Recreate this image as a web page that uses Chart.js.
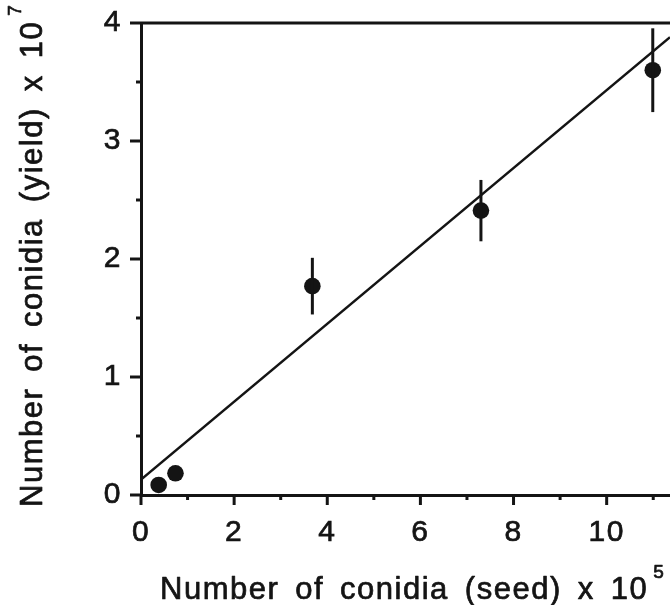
<!DOCTYPE html>
<html><head><meta charset="utf-8">
<script src="https://cdn.jsdelivr.net/npm/chart.js@4.4.0/dist/chart.umd.min.js"></script>
<style>html,body{margin:0;padding:0;background:#fff;overflow:hidden}#wrap{width:670px;height:605px}</style>
</head><body><div id="wrap"><canvas id="c" width="670" height="605"></canvas></div>
<script>
// ---- data ----
const seedX = [0.38, 0.74, 3.68, 7.30, 10.99];
const yieldY = [0.085, 0.184, 1.77, 2.41, 3.60];
const yieldErr = [0, 0, 0.24, 0.26, 0.355];
const fitX = [0, 11.36];
const fitY = [0.13, 3.88];
const xTickLabels = [0, 2, 4, 6, 8, 10];
const yTickLabels = [0, 1, 2, 3, 4];
const xTitleWords = ['Number', 'of', 'conidia', '(seed)', 'x', '10'];
const xTitleSup = '5';
const yTitleWords = ['Number', 'of', 'conidia', '(yield)', 'x', '10'];
const yTitleSup = '7';

const INK = '#141414';
const FONT = '"Liberation Sans", Arial, Helvetica, sans-serif';
const SPACING = '1.5px';
const WORD_GAP = 16;

const extras = {
  id: 'extras',
  beforeDraw(chart) {
    chart.ctx.letterSpacing = SPACING;
  },
  afterDatasetsDraw(chart) {
    const ctx = chart.ctx, xs = chart.scales.x, ys = chart.scales.y;
    ctx.save();
    ctx.strokeStyle = INK; ctx.lineWidth = 3; ctx.lineCap = 'butt';
    for (let i = 0; i < seedX.length; i++) {
      if (!yieldErr[i]) continue;
      const px = xs.getPixelForValue(seedX[i]);
      ctx.beginPath();
      ctx.moveTo(px, ys.getPixelForValue(yieldY[i] + yieldErr[i]));
      ctx.lineTo(px, ys.getPixelForValue(yieldY[i] - yieldErr[i]));
      ctx.stroke();
    }
    ctx.restore();
  },
  afterDraw(chart) {
    const ctx = chart.ctx, xs = chart.scales.x, ys = chart.scales.y, a = chart.chartArea;
    ctx.save();
    ctx.strokeStyle = INK; ctx.lineWidth = 3;
    // tick marks
    xs.ticks.forEach(t => {
      const px = xs.getPixelForValue(t.value);
      const major = xTickLabels.includes(t.value);
      ctx.beginPath(); ctx.moveTo(px, a.bottom); ctx.lineTo(px, a.bottom + (major ? 10 : 5)); ctx.stroke();
    });
    ys.ticks.forEach(t => {
      const py = ys.getPixelForValue(t.value);
      const major = yTickLabels.includes(t.value);
      ctx.beginPath(); ctx.moveTo(a.left, py); ctx.lineTo(a.left - (major ? 11 : 5), py); ctx.stroke();
    });
    // top frame line
    ctx.beginPath(); ctx.moveTo(a.left, a.top); ctx.lineTo(a.right, a.top); ctx.stroke();
    // axis titles
    ctx.fillStyle = INK; ctx.textBaseline = 'alphabetic'; ctx.textAlign = 'left';
    ctx.letterSpacing = SPACING;
    ctx.lineWidth = 0.7; ctx.lineJoin = 'round';
    const drawTitle = (words, sup, x0, y0, rot) => {
      ctx.save();
      ctx.translate(x0, y0); if (rot) ctx.rotate(-Math.PI / 2);
      ctx.font = '31px ' + FONT;
      let x = 0;
      words.forEach(w => { ctx.fillText(w, x, 0); ctx.strokeText(w, x, 0); x += ctx.measureText(w).width + WORD_GAP; });
      x -= WORD_GAP;
      ctx.font = '19px ' + FONT;
      ctx.fillText(sup, x + 5, -21); ctx.strokeText(sup, x + 5, -21);
      ctx.restore();
    };
    drawTitle(xTitleWords, xTitleSup, 160, 599, false);
    drawTitle(yTitleWords, yTitleSup, 42, 507, true);
    ctx.restore();
  }
};

new Chart(document.getElementById('c'), {
  type: 'scatter',
  data: {
    datasets: [
      { type: 'line', data: fitX.map((x, i) => ({ x, y: fitY[i] })), borderColor: INK, borderWidth: 2.5, pointRadius: 0, fill: false, tension: 0 },
      { data: seedX.map((x, i) => ({ x, y: yieldY[i] })), pointRadius: 8.3, pointHoverRadius: 8.3, backgroundColor: INK, borderWidth: 0 }
    ]
  },
  options: {
    responsive: false, animation: false, events: [],
    layout: { autoPadding: false, padding: { top: 23, right: 0, left: 0, bottom: 0 } },
    plugins: { legend: { display: false }, tooltip: { enabled: false } },
    scales: {
      x: {
        type: 'linear', min: 0, max: 11.36,
        afterFit: s => { s.height = 110; s.paddingRight = 0; s.paddingLeft = 0; },
        grid: { display: false, drawTicks: false },
        border: { display: true, color: INK, width: 3 },
        ticks: { stepSize: 1, includeBounds: false, autoSkip: false, maxRotation: 0, padding: 20,
          color: INK, font: { size: 30, family: FONT }, textStrokeColor: INK, textStrokeWidth: 0.7,
          callback: v => xTickLabels.includes(v) ? String(v) : '' }
      },
      y: {
        type: 'linear', min: 0, max: 4,
        afterFit: s => { s.width = 141; s.paddingTop = 0; s.paddingBottom = 0; },
        grid: { display: false, drawTicks: false },
        border: { display: true, color: INK, width: 3 },
        ticks: { stepSize: 0.5, includeBounds: false, autoSkip: false, padding: 19,
          color: INK, font: { size: 30, family: FONT }, textStrokeColor: INK, textStrokeWidth: 0.7,
          callback: v => yTickLabels.includes(v) ? String(v) : '' }
      }
    }
  },
  plugins: [extras]
});
</script></body></html>
